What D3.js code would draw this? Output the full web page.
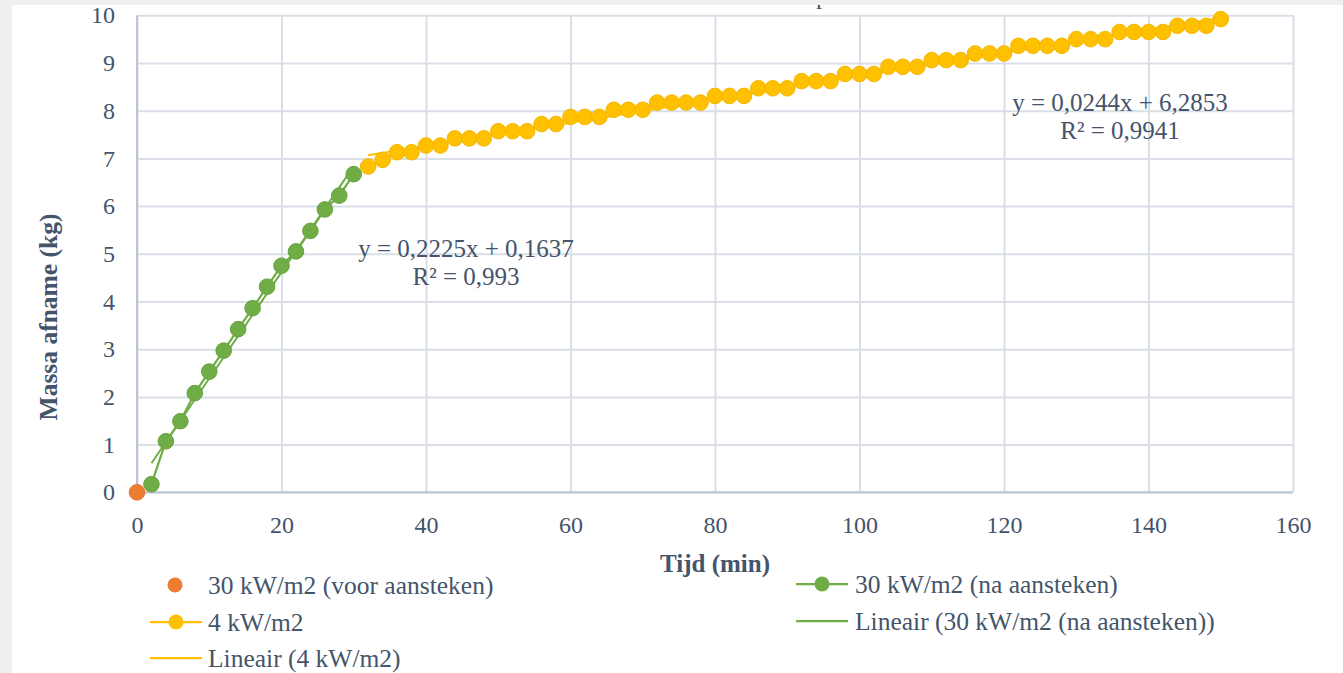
<!DOCTYPE html>
<html>
<head>
<meta charset="utf-8">
<script src="https://cdn.jsdelivr.net/npm/d3@7"></script>
<style>
  html, body { margin: 0; padding: 0; background: #f0eeef; }
  svg { display: block; }
  text { font-family: "Liberation Serif", "Times New Roman", serif; fill: #44546a; }
</style>
</head>
<body>
<svg id="chart" width="1343" height="673"></svg>
<script>
// ---- data ----
const orangeX = [0];
const orangeY = [0];
const greenX = [2, 4, 6, 8, 10, 12, 14, 16, 18, 20, 22, 24, 26, 28, 30];
const greenY = [0.17, 1.07, 1.49, 2.08, 2.53, 2.97, 3.42, 3.86, 4.31, 4.75, 5.05, 5.48, 5.93, 6.22, 6.67];
const yellowX = [32, 34, 36, 38, 40, 42, 44, 46, 48, 50, 52, 54, 56, 58, 60, 62, 64, 66, 68, 70,
                 72, 74, 76, 78, 80, 82, 84, 86, 88, 90, 92, 94, 96, 98, 100, 102, 104, 106, 108, 110,
                 112, 114, 116, 118, 120, 122, 124, 126, 128, 130, 132, 134, 136, 138, 140, 142, 144, 146, 148, 150];
const yellowY = [6.83, 6.97, 7.13, 7.13, 7.27, 7.27, 7.42, 7.42, 7.42, 7.57, 7.57, 7.57, 7.72, 7.72, 7.87, 7.87, 7.87, 8.02, 8.02, 8.02,
                 8.17, 8.17, 8.17, 8.17, 8.31, 8.31, 8.31, 8.47, 8.47, 8.47, 8.62, 8.62, 8.62, 8.77, 8.77, 8.77, 8.92, 8.92, 8.92, 9.06,
                 9.06, 9.06, 9.20, 9.20, 9.20, 9.36, 9.36, 9.36, 9.36, 9.50, 9.50, 9.50, 9.65, 9.65, 9.65, 9.65, 9.78, 9.78, 9.78, 9.92];
// trendlines (slope, intercept) and x-range as reported by the chart
const greenTrend = [0.2225, 0.1637];
const greenTrendRange = [2, 30];
const yellowTrend = [0.0244, 6.2853];
const yellowTrendRange = [32, 150];
const greenEq = ["y = 0,2225x + 0,1637", "R² = 0,993"];
const yellowEq = ["y = 0,0244x + 6,2853", "R² = 0,9941"];
const xTicks = [0, 20, 40, 60, 80, 100, 120, 140, 160];
const yTicks = [0, 1, 2, 3, 4, 5, 6, 7, 8, 9, 10];
const xTitle = "Tijd (min)";
const yTitle = "Massa afname (kg)";
const legendNames = ["30 kW/m2 (voor aansteken)", "30 kW/m2 (na aansteken)", "4 kW/m2",
                     "Lineair (30 kW/m2 (na aansteken))", "Lineair (4 kW/m2)"];

const C_ORANGE = "#ed7d31", C_GREEN = "#70ad47", C_YELLOW = "#ffc000";
const TEXT = "#44546a";

const svg = d3.select("#chart");
const W = 1343, H = 673;

// background frame
svg.append("rect").attr("width", W).attr("height", H).attr("fill", "#f0eeef");
svg.append("rect").attr("x", 12).attr("y", 5).attr("width", W - 12).attr("height", H - 5).attr("fill", "#ffffff");

// partially visible title remnant (cut off at the top in the source)
svg.append("text").attr("x", 816).attr("y", 4).attr("font-size", 25).text("p");
svg.append("rect").attr("x", 0).attr("y", 0).attr("width", W).attr("height", 5).attr("fill", "#f0eeef");

const x = d3.scaleLinear().domain([0, 160]).range([137, 1293]);
const y = d3.scaleLinear().domain([0, 10]).range([492.3, 15.3]);

// gridlines
const grid = svg.append("g");
grid.append("g").attr("transform", `translate(0,${y(0)})`)
  .call(d3.axisBottom(x).tickValues(xTicks).tickSize(-(y(0) - y(10))).tickFormat(""))
  .call(g => g.select(".domain").remove())
  .call(g => g.selectAll("line").attr("stroke", "#d9dee7").attr("stroke-width", 2));
grid.append("g").attr("transform", `translate(${x(0)},0)`)
  .call(d3.axisLeft(y).tickValues(yTicks).tickSize(-(x(160) - x(0))).tickFormat(""))
  .call(g => g.select(".domain").remove())
  .call(g => g.selectAll("line").attr("stroke", "#d9dee7").attr("stroke-width", 2));

// axis lines
svg.append("line").attr("x1", x(0)).attr("x2", x(0)).attr("y1", y(10)).attr("y2", y(0))
  .attr("stroke", "#bcc5d4").attr("stroke-width", 2);
svg.append("line").attr("x1", x(0)).attr("x2", x(160)).attr("y1", y(0)).attr("y2", y(0))
  .attr("stroke", "#bcc5d4").attr("stroke-width", 2);

// tick labels
const xa = svg.append("g").attr("transform", `translate(0,${y(0)})`)
  .call(d3.axisBottom(x).tickValues(xTicks).tickSize(0).tickPadding(24));
xa.select(".domain").remove();
xa.selectAll("text").attr("font-size", 24).attr("fill", TEXT)
  .attr("font-family", '"Liberation Serif", serif');
const ya = svg.append("g").attr("transform", `translate(${x(0)},0)`)
  .call(d3.axisLeft(y).tickValues(yTicks).tickSize(0).tickPadding(22));
ya.select(".domain").remove();
ya.selectAll("text").attr("font-size", 24).attr("fill", TEXT)
  .attr("font-family", '"Liberation Serif", serif');

// axis titles
svg.append("text").attr("x", 715).attr("y", 563).attr("dy", "0.35em")
  .attr("text-anchor", "middle").attr("font-size", 25).attr("font-weight", "bold").text(xTitle);
svg.append("text").attr("transform", "translate(48,317) rotate(-90)").attr("dy", "0.35em")
  .attr("text-anchor", "middle").attr("font-size", 25.5).attr("font-weight", "bold").text(yTitle);

// series lines
const line = d3.line().x(d => x(d[0])).y(d => y(d[1]));
const greenPts = greenX.map((v, i) => [v, greenY[i]]);
const yellowPts = yellowX.map((v, i) => [v, yellowY[i]]);
svg.append("path").attr("d", line(greenPts)).attr("fill", "none").attr("stroke", C_GREEN).attr("stroke-width", 2.25);
svg.append("path").attr("d", line(yellowPts)).attr("fill", "none").attr("stroke", C_YELLOW).attr("stroke-width", 2.25);

// trendlines
const gT = greenTrendRange.map(v => [v, greenTrend[0] * v + greenTrend[1]]);
const yT = yellowTrendRange.map(v => [v, yellowTrend[0] * v + yellowTrend[1]]);
svg.append("path").attr("d", line(gT)).attr("fill", "none").attr("stroke", C_GREEN).attr("stroke-width", 2);
svg.append("path").attr("d", line(yT)).attr("fill", "none").attr("stroke", C_YELLOW).attr("stroke-width", 2);

// markers
function markers(pts, color, stroke) {
  svg.append("g").selectAll("circle").data(pts).join("circle")
    .attr("cx", d => x(d[0])).attr("cy", d => y(d[1])).attr("r", 7.8)
    .attr("fill", color).attr("stroke", stroke).attr("stroke-width", 1);
}
markers(greenPts, C_GREEN, "#66a140");
markers(yellowPts, C_YELLOW, "#f5b800");
markers(orangeX.map((v, i) => [v, orangeY[i]]), C_ORANGE, "#e5702a");

// trend equations
function eq(lines, cx, cy) {
  lines.forEach((t, i) => {
    svg.append("text").attr("x", cx).attr("y", cy + i * 28).attr("dy", "0.35em")
      .attr("text-anchor", "middle").attr("font-size", 25).text(t);
  });
}
eq(greenEq, 466, 248);
eq(yellowEq, 1120, 102);

// legend
const lg = svg.append("g");
function legendText(tx, ty, t) {
  lg.append("text").attr("x", tx).attr("y", ty).attr("dy", "0.35em").attr("font-size", 25.5).text(t);
}
function legLine(x1, x2, ly, color) {
  lg.append("line").attr("x1", x1).attr("x2", x2).attr("y1", ly).attr("y2", ly)
    .attr("stroke", color).attr("stroke-width", 2.25);
}
function legDot(cx, cy, color) {
  lg.append("circle").attr("cx", cx).attr("cy", cy).attr("r", 7.5).attr("fill", color);
}
legDot(175, 585, C_ORANGE);
legendText(208, 585, legendNames[0]);
legLine(796, 848, 584, C_GREEN); legDot(822, 584, C_GREEN);
legendText(855, 584, legendNames[1]);
legLine(150, 202, 622, C_YELLOW); legDot(176, 622, C_YELLOW);
legendText(208, 622, legendNames[2]);
legLine(796, 848, 621, C_GREEN);
legendText(855, 621, legendNames[3]);
legLine(150, 202, 658, C_YELLOW);
legendText(208, 658, legendNames[4]);
</script>
</body>
</html>
